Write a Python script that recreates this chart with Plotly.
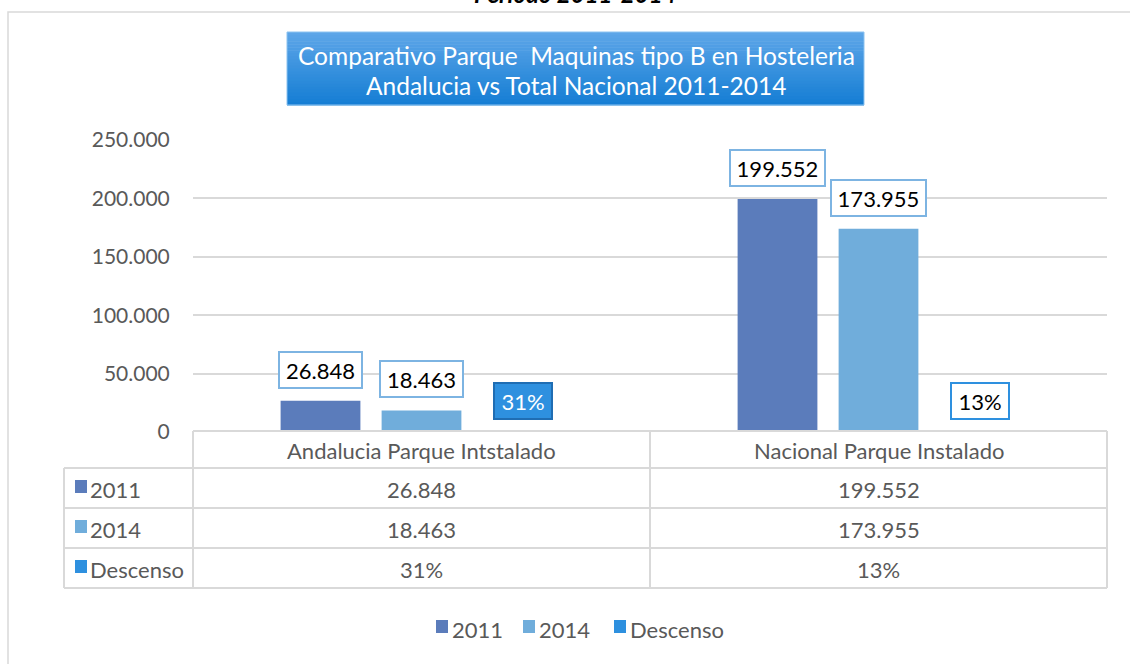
import plotly.graph_objects as go

# ---- data ----
categories = ["Andalucia Parque Intstalado", "Nacional Parque Instalado"]
series_names = ["2011", "2014", "Descenso"]
values_2011 = [26848, 199552]
values_2014 = [18463, 173955]
values_descenso = [0.31, 0.13]
y_ticks = [0, 50000, 100000, 150000, 200000, 250000]
title_lines = ["Comparativo Parque  Maquinas tipo B en Hosteleria",
               "Andalucia vs Total Nacional 2011-2014"]
top_text = "Periodo 2011-2014"

# ---- style ----
W, H = 1130, 664
L, R, T, B = 193, 1107, 140, 432
colors = ["#5b7cbb", "#70addb", "#2e90df"]
grid = "#d9d9d9"
txt = "#595959"
FONT = "Lato"
FS = 22


def px(x):
    return (x - L) / (R - L)


def py(y):
    return (B - y) / (B - T)


def fmt_num(v):
    return f"{v:,}".replace(",", ".")


def fmt_pct(v):
    return f"{round(v * 100)}%"


all_series = [values_2011, values_2014, values_descenso]

fig = go.Figure()
for name, vals, col in zip(series_names, all_series, colors):
    fig.add_trace(go.Bar(x=categories, y=vals, name=name, marker_color=col,
                         marker_line_width=0, showlegend=False))

shapes = []
annotations = []

# outer frame
shapes.append(dict(type="rect", xref="paper", yref="paper", x0=px(8), x1=px(1145),
                   y0=py(12), y1=py(690), line=dict(color=grid, width=1.5), layer="below"))

# title box with vertical gradient
box_x0, box_x1, box_y0, box_y1 = 287, 864, 32, 105
top_c = (92, 165, 232)
bot_c = (22, 126, 212)
n = 24
for i in range(n):
    t = i / (n - 1)
    c = tuple(int(round(top_c[k] + (bot_c[k] - top_c[k]) * t)) for k in range(3))
    ya = box_y0 + (box_y1 - box_y0) * i / n
    yb = box_y0 + (box_y1 - box_y0) * (i + 1) / n + 0.6
    shapes.append(dict(type="rect", xref="paper", yref="paper", x0=px(box_x0), x1=px(box_x1),
                       y0=py(ya), y1=py(yb), line=dict(width=0),
                       fillcolor=f"rgb{c}", layer="above"))
shapes.append(dict(type="rect", xref="paper", yref="paper", x0=px(box_x0), x1=px(box_x1),
                   y0=py(box_y0), y1=py(box_y1), line=dict(color="#8cc3f0", width=1), layer="above"))
for i, line in enumerate(title_lines):
    annotations.append(dict(xref="paper", yref="paper", x=px(576), y=py(56 + 30 * i),
                            text=line, showarrow=False, xanchor="center", yanchor="middle",
                            font=dict(family=FONT, size=24.5, color="white")))

# cut-off top text
annotations.append(dict(xref="paper", yref="paper", x=px(575), y=py(10), text=f"<b><i>{top_text}</i></b>",
                        showarrow=False, xanchor="center", yanchor="bottom",
                        font=dict(family=FONT, size=24, color="black")))

# data label boxes
slot = 101
for si, vals in enumerate(all_series):
    for ci, cat in enumerate(categories):
        v = vals[ci]
        if si < 2:
            text = fmt_num(v)
            bg, bc, fc = "white", "#7db4e2", "black"
        else:
            text = fmt_pct(v)
            if ci == 0:
                bg, bc, fc = "#2e90df", "#1f6db3", "white"
            else:
                bg, bc, fc = "white", "#2e90df", "black"
        annotations.append(dict(xref="x", yref="y", x=cat, y=v, text=text, showarrow=False,
                                xanchor="center", yanchor="bottom", xshift=(si - 1) * slot, yshift=12,
                                bgcolor=bg, bordercolor=bc, borderwidth=2, borderpad=3,
                                width=max(12 * len(text) + 3, 50), height=28,
                                font=dict(family=FONT, size=FS, color=fc)))

# data table
row_lines = [468, 508, 548, 588]
col_lines = [64, 193, 650, 1107]
shapes.append(dict(type="line", xref="paper", yref="paper", x0=px(193), x1=px(1107),
                   y0=py(431), y1=py(431), line=dict(color=grid, width=2)))
for yl in row_lines:
    shapes.append(dict(type="line", xref="paper", yref="paper", x0=px(64), x1=px(1107),
                       y0=py(yl), y1=py(yl), line=dict(color=grid, width=2)))
for xl in col_lines:
    ytop = 468 if xl == 64 else 431
    shapes.append(dict(type="line", xref="paper", yref="paper", x0=px(xl), x1=px(xl),
                       y0=py(ytop), y1=py(588), line=dict(color=grid, width=2)))

for cat in categories:
    annotations.append(dict(xref="x", yref="paper", x=cat, y=py(450), text=cat, showarrow=False,
                            xanchor="center", yanchor="middle",
                            font=dict(family=FONT, size=FS, color=txt)))

row_centers = [489, 529, 569]
for si, (name, vals, col) in enumerate(zip(series_names, all_series, colors)):
    yc = row_centers[si]
    shapes.append(dict(type="rect", xref="paper", yref="paper", x0=px(75), x1=px(87),
                       y0=py(yc - 9), y1=py(yc + 4), fillcolor=col, line=dict(width=0)))
    annotations.append(dict(xref="paper", yref="paper", x=px(88), y=py(yc), text=name,
                            showarrow=False, xanchor="left", yanchor="middle",
                            font=dict(family=FONT, size=FS, color=txt)))
    for ci, cat in enumerate(categories):
        t = fmt_num(vals[ci]) if si < 2 else fmt_pct(vals[ci])
        annotations.append(dict(xref="x", yref="paper", x=cat, y=py(yc), text=t, showarrow=False,
                                xanchor="center", yanchor="middle",
                                font=dict(family=FONT, size=FS, color=txt)))

# bottom legend
legend_starts = [436, 523, 614]
legend_y = 629
for name, col, x0 in zip(series_names, colors, legend_starts):
    shapes.append(dict(type="rect", xref="paper", yref="paper", x0=px(x0), x1=px(x0 + 12),
                       y0=py(legend_y - 9), y1=py(legend_y + 4), fillcolor=col, line=dict(width=0)))
    annotations.append(dict(xref="paper", yref="paper", x=px(x0 + 14), y=py(legend_y), text=name,
                            showarrow=False, xanchor="left", yanchor="middle",
                            font=dict(family=FONT, size=FS, color=txt)))

fig.update_layout(
    width=W, height=H,
    margin=dict(l=L, r=W - R, t=T, b=H - B, pad=0),
    paper_bgcolor="white", plot_bgcolor="white",
    font=dict(family=FONT, size=FS, color=txt),
    separators=",.",
    barmode="group", bargap=0.337, bargroupgap=0.21,
    showlegend=False,
    shapes=shapes, annotations=annotations,
)
fig.update_xaxes(showticklabels=False, showgrid=False, zeroline=False, showline=False, ticks="")
fig.update_yaxes(range=[0, 250000], tickvals=y_ticks, tickformat=",", showgrid=True, gridcolor=grid,
                 gridwidth=2, zeroline=False, showline=False, ticks="outside", ticklen=18,
                 tickcolor="rgba(0,0,0,0)", tickfont=dict(family=FONT, size=21, color=txt))

fig.write_html("out.html", config={"displayModeBar": False},
               post_script="document.body.style.margin='0';document.body.style.overflow='hidden';")
